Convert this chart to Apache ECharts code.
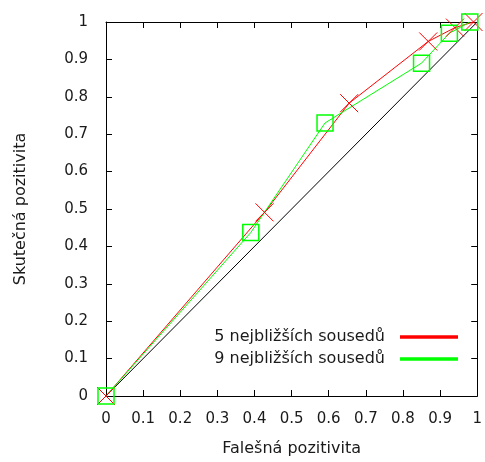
<!DOCTYPE html>
<html>
<head>
<meta charset="utf-8">
<script src="https://cdn.jsdelivr.net/npm/echarts@6/dist/echarts.min.js"></script>
<style>
html,body{margin:0;padding:0;background:#fff;}
#chart{width:485px;height:462px;}
</style>
</head>
<body>
<div id="chart"></div>
<script>
// Data
var seriesNames = ['5 nejbližších sousedů', '9 nejbližších sousedů'];
var knn5 = [[0, 0], [0.427, 0.491], [0.655, 0.783], [0.868, 0.948], [0.94, 0.985], [0.99, 1.0]];
var knn9 = [[0, 0], [0.39, 0.437], [0.59, 0.73], [0.85, 0.89], [0.925, 0.97], [0.98, 1.0]];
var diagonal = [[0, 0], [1, 1]];
var axisTicks = [0, 0.1, 0.2, 0.3, 0.4, 0.5, 0.6, 0.7, 0.8, 0.9, 1];
var xTitle = 'Falešná pozitivita';
var yTitle = 'Skutečná pozitivita';

var FONT = 'DejaVu Sans';
var TXT = '#1a1a1a';
function fmt(v) { return String(+(+v).toFixed(1)); }

function axis(pos, isX, withLabels) {
  var a = {
    type: 'value',
    position: pos,
    min: axisTicks[0],
    max: axisTicks[axisTicks.length - 1],
    interval: 0.1,
    splitLine: { show: false },
    axisLine: { show: true, onZero: false, lineStyle: { color: '#000', width: 1 } },
    axisTick: { show: true, inside: true, length: 6, lineStyle: { color: '#000', width: 1 } },
    axisLabel: {
      show: withLabels,
      formatter: fmt,
      fontFamily: FONT,
      fontSize: 15,
      color: TXT,
      margin: isX ? 16 : 18
    }
  };
  if (withLabels) {
    a.name = isX ? xTitle : yTitle;
    a.nameLocation = 'middle';
    a.nameGap = isX ? 45 : 77;
    a.nameTextStyle = { fontFamily: FONT, fontSize: 16, color: TXT };
  }
  return a;
}

var chart = echarts.init(document.getElementById('chart'));
chart.setOption({
  animation: false,
  backgroundColor: '#fff',
  grid: { left: 106, right: 4, top: 22, bottom: 66, containLabel: false },
  xAxis: [axis('bottom', true, true), axis('top', true, false)],
  yAxis: [axis('left', false, true), axis('right', false, false)],
  legend: {
    orient: 'vertical',
    right: 27,
    top: 329,
    align: 'right',
    padding: 0,
    itemWidth: 56,
    itemHeight: 1.5,
    itemGap: 6,
    icon: 'rect',
    textStyle: { fontFamily: FONT, fontSize: 16, color: TXT, padding: [0, 11, 0, 0] },
    data: [
      { name: seriesNames[0], itemStyle: { color: '#ff0000' } },
      { name: seriesNames[1], itemStyle: { color: '#00ff00' } }
    ]
  },
  series: [
    {
      name: 'diag',
      type: 'line',
      xAxisIndex: 0, yAxisIndex: 0,
      data: diagonal,
      symbol: 'none',
      lineStyle: { color: '#000', width: 1 },
      itemStyle: { color: '#000' },
      silent: true
    },
    {
      name: seriesNames[0],
      type: 'line',
      xAxisIndex: 0, yAxisIndex: 0,
      data: knn5,
      symbol: 'path://M0,0L10,10M10,0L0,10',
      symbolSize: 18,
      showAllSymbol: true,
      lineStyle: { color: '#ff0000', width: 1 },
      itemStyle: { color: 'rgba(0,0,0,0)', borderColor: '#ff0000', borderWidth: 1 }
    },
    {
      name: seriesNames[1],
      type: 'line',
      xAxisIndex: 0, yAxisIndex: 0,
      data: knn9,
      symbol: 'rect',
      symbolSize: 16,
      showAllSymbol: true,
      lineStyle: { color: '#00ff00', width: 1 },
      itemStyle: { color: 'rgba(0,0,0,0)', borderColor: '#00ff00', borderWidth: 1.5 }
    }
  ]
});
</script>
</body>
</html>
